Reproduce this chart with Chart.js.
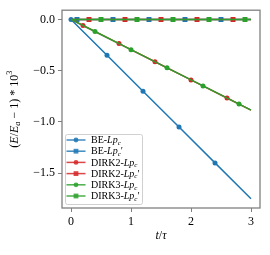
<!DOCTYPE html>
<html><head><meta charset="utf-8">
<script src="https://cdn.jsdelivr.net/npm/chart.js@4"></script>
<style>html,body{margin:0;padding:0;background:#fff}</style>
</head><body>
<canvas id="c" width="270" height="255"></canvas>
<script>
// values (E/Ea - 1) * 1e3 against t/tau
const tBE = [0, 0.6, 1.2, 1.8, 2.4, 3.0];
const eBE = [0, -0.35, -0.70, -1.05, -1.40, -1.75];
const tBEp = [0, 0.1, 0.7, 1.3, 1.9, 2.5, 3.0];
const eBEp = [0, 0, 0, 0, 0, 0, 0];
const tD2 = [0, 0.2, 0.8, 1.4, 2.0, 2.6, 3.0];
const eD2 = [0, -0.059, -0.236, -0.413, -0.590, -0.767, -0.885];
const tD2p = [0, 0.3, 0.9, 1.5, 2.1, 2.7, 3.0];
const eD2p = [0, 0, 0, 0, 0, 0, 0];
const tD3 = [0, 0.4, 1.0, 1.6, 2.2, 2.8, 3.0];
const eD3 = [0, -0.118, -0.295, -0.472, -0.649, -0.826, -0.885];
const tD3p = [0, 0.5, 1.1, 1.7, 2.3, 2.9, 3.0];
const eD3p = [0, 0, 0, 0, 0, 0, 0];

const schemes = ["BE", "BE", "DIRK2", "DIRK2", "DIRK3", "DIRK3"];
const primed = [false, true, false, true, false, true];
const xTicks = [0, 1, 2, 3];
const yTicks = [0, -0.5, -1.0, -1.5];

const colors = { BE: "#1f77b4", DIRK2: "#d62728", DIRK3: "#2ca02c" };
const serif = "'Liberation Serif', 'DejaVu Serif', serif";

const series = [[tBE, eBE], [tBEp, eBEp], [tD2, eD2], [tD2p, eD2p], [tD3, eD3], [tD3p, eD3p]];

function pts(t, e) {
  return t.map((v, i) => ({ x: v, y: e[i] }));
}

// markers only where matplotlib put them (not on the line ends)
function radii(t, first, r) {
  return t.map((v, i) => (i === t.length - 1 || (i === 0 && !first)) ? 0 : r);
}

const datasets = series.map(([t, e], i) => {
  const c = colors[schemes[i]];
  const sq = primed[i];
  return {
    label: schemes[i] + "-Lpc" + (sq ? "'" : ""),
    data: pts(t, e),
    borderColor: c,
    backgroundColor: c,
    borderWidth: 1.5,
    pointStyle: sq ? "rect" : "circle",
    pointRadius: radii(t, i === 0, sq ? 3.5 : 2.5),
    pointBorderWidth: 0,
    pointHoverRadius: 0,
    order: 5 - i
  };
});

// piece list [text, style]: n normal, i italic, isub italic subscript, sup superscript
function fontFor(st, size) {
  const small = (st === "sub" || st === "sup" || st === "isub");
  const it = (st === "i" || st === "isub");
  return (it ? "italic " : "") + (small ? size * 0.7 : size) + "px " + serif;
}
function richWidth(ctx, parts, size) {
  let w = 0;
  parts.forEach(([s, st]) => {
    ctx.font = fontFor(st, size);
    w += ctx.measureText(s).width;
  });
  return w;
}
function drawRich(ctx, parts, x, y, size) {
  parts.forEach(([s, st]) => {
    ctx.font = fontFor(st, size);
    let dy = 0;
    if (st === "sub" || st === "isub") dy = size * 0.25;
    if (st === "sup") dy = -size * 0.4;
    ctx.fillText(s, x, y + dy);
    x += ctx.measureText(s).width;
  });
}

const extras = {
  id: "extras",
  afterDraw(chart) {
    const ctx = chart.ctx;
    const a = chart.chartArea;
    ctx.save();
    // frame
    ctx.strokeStyle = "#808080";
    ctx.lineWidth = 1.3;
    ctx.strokeRect(a.left, a.top, a.right - a.left, a.bottom - a.top);

    // legend
    const lx = 65, ly = 134, lw = 77, lh = 70;
    ctx.fillStyle = "rgba(255,255,255,0.85)";
    ctx.strokeStyle = "#d0d0d0";
    ctx.lineWidth = 1;
    ctx.beginPath();
    ctx.roundRect(lx + 0.5, ly + 0.5, lw, lh, 2);
    ctx.fill();
    ctx.stroke();
    chart.data.datasets.forEach((ds, i) => {
      const y = 140 + i * 11.2;
      ctx.globalAlpha = 0.85;
      ctx.strokeStyle = ds.borderColor;
      ctx.lineWidth = 1.5;
      ctx.beginPath();
      ctx.moveTo(66.5, y);
      ctx.lineTo(85.5, y);
      ctx.stroke();
      ctx.fillStyle = ds.borderColor;
      if (primed[i]) {
        ctx.fillRect(76 - 2.4, y - 2.4, 4.8, 4.8);
      } else {
        ctx.beginPath();
        ctx.arc(76, y, 2.4, 0, Math.PI * 2);
        ctx.fill();
      }
      ctx.globalAlpha = 1;
      ctx.fillStyle = "#000";
      ctx.textBaseline = "middle";
      ctx.textAlign = "left";
      const parts = [[schemes[i] + "-", "n"], ["Lp", "i"], ["c", "isub"]];
      if (primed[i]) parts.push(["\u2032", "n"]);
      drawRich(ctx, parts, 91, y + 0.5, 10);
    });

    // axis titles
    ctx.fillStyle = "#000";
    ctx.textBaseline = "middle";
    ctx.textAlign = "left";
    const xl = [["t", "i"], ["/", "n"], ["\u03c4", "i"]];
    const xw = richWidth(ctx, xl, 12);
    drawRich(ctx, xl, (a.left + a.right) / 2 - xw / 2, 236, 12);

    const yl = [["(", "n"], ["E", "i"], ["/", "n"], ["E", "i"], ["a", "isub"],
      [" \u2212 1) * 10", "n"], ["3", "sup"]];
    const yw = richWidth(ctx, yl, 12);
    ctx.translate(15, (a.top + a.bottom) / 2);
    ctx.rotate(-Math.PI / 2);
    drawRich(ctx, yl, -yw / 2, 0, 12);
    ctx.restore();
  }
};

new Chart(document.getElementById("c"), {
  type: "line",
  data: { datasets },
  options: {
    responsive: false,
    animation: false,
    layout: { padding: { top: 10, right: 10, left: 0, bottom: 0 } },
    plugins: { legend: { display: false }, tooltip: { enabled: false } },
    elements: { line: { tension: 0 } },
    scales: {
      x: {
        type: "linear",
        min: -0.15,
        max: 3.15,
        afterBuildTicks: s => { s.ticks = xTicks.map(v => ({ value: v })); },
        afterFit: s => { s.height = 47; },
        ticks: { color: "#000", font: { family: serif, size: 12 }, padding: 3, callback: v => String(v) },
        grid: { drawOnChartArea: false, tickLength: 4, color: "#808080", lineWidth: 1 },
        border: { display: false }
      },
      y: {
        min: -1.84,
        max: 0.09,
        afterBuildTicks: s => { s.ticks = yTicks.map(v => ({ value: v })); },
        afterFit: s => { s.width = 62; },
        ticks: { color: "#000", font: { family: serif, size: 12 }, padding: 3,
          callback: v => v.toFixed(1).replace("-", "\u2212") },
        grid: { drawOnChartArea: false, tickLength: 4, color: "#808080", lineWidth: 1 },
        border: { display: false }
      }
    }
  },
  plugins: [extras]
});
</script>
</body></html>
